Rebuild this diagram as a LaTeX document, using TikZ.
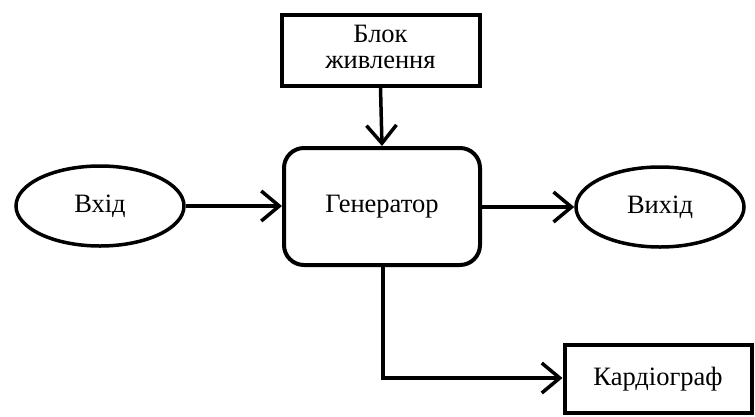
\documentclass[tikz,border=0pt]{standalone}
\usepackage{fontspec}
\setmainfont{Liberation Serif}
\usetikzlibrary{shapes.geometric,arrows.meta}
\begin{document}
\begin{tikzpicture}[x=1pt,y=-1pt,
  lbl/.style={font=\fontsize{26.5}{26}\selectfont, align=center},
  conn/.style={line width=3.5pt, -{Straight Barb[length=18pt,width=30pt,line width=3.5pt]}}
]
\useasboundingbox (0,0) rectangle (755,416);
\node[draw, line width=4pt, minimum width=198pt, minimum height=71pt, lbl, inner sep=0pt] (psu) at (380.5,50) {\raisebox{4pt}{\begin{tabular}{@{}c@{}}Блок\\живлення\end{tabular}}};
\node[draw, line width=4pt, rounded corners=20pt, minimum width=196pt, minimum height=117pt, lbl] (gen) at (382,206.5) {Генератор};
\node[draw, ellipse, line width=3.5pt, minimum width=168pt, minimum height=80pt, lbl] (in) at (100,206) {Вхід};
\node[draw, ellipse, line width=3.5pt, minimum width=168pt, minimum height=80pt, lbl] (out) at (660,207) {Вихід};
\node[draw, line width=4pt, minimum width=187pt, minimum height=68pt, lbl] (card) at (658,379) {\raisebox{3pt}{Кардіограф}};
\draw[conn] (psu.south) -- (gen.north);
\draw[conn] (in.east) -- (gen.west |- in.east);
\draw[conn] (gen.east |- out.west) -- (out.west);
\coordinate (bend) at (383,378);
\draw[conn] (gen.south -| bend) -- (bend) -- (card.west |- bend);
\end{tikzpicture}
\end{document}
